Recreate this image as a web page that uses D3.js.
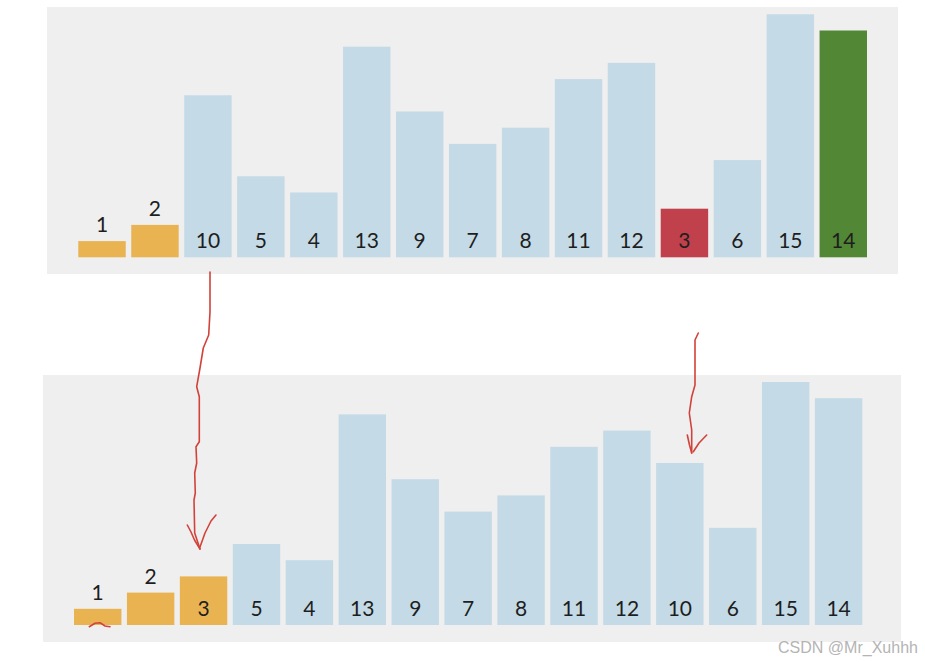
<!DOCTYPE html>
<html>
<head>
<meta charset="utf-8">
<script src="https://cdn.jsdelivr.net/npm/d3@7"></script>
<style>
  html, body { margin: 0; padding: 0; background: #ffffff; }
  svg { display: block; }
</style>
</head>
<body>
<svg id="chart" width="925" height="662"></svg>
<script>
// ---- data ----
const topValues    = [1, 2, 10, 5, 4, 13, 9, 7, 8, 11, 12, 3, 6, 15, 14];
const topStates    = ["sorted","sorted","normal","normal","normal","normal","normal","normal","normal","normal","normal","min","normal","normal","current"];
const bottomValues = [1, 2, 3, 5, 4, 13, 9, 7, 8, 11, 12, 10, 6, 15, 14];
const bottomStates = ["sorted","sorted","sorted","normal","normal","normal","normal","normal","normal","normal","normal","normal","normal","normal","normal"];
const maxValue = 15;

// hand-drawn annotation strokes (pixel points)
const arrow1Shaft = [[210,272],[210,312],[208.7,335],[203.3,348],[200,368],[196.7,386.7],[199.3,396.7],[199.3,441.7],[196,446.7],[196.7,463],[194.7,473],[195.3,493],[194,500],[194.7,533],[200,549]];
const arrow1HeadL = [[187.3,525],[191,532],[194.5,540],[200,549]];
const arrow1HeadR = [[216,515],[211,521],[205,533],[200,547]];
const arrow2Shaft = [[698.3,333],[695,340],[695,385],[691.7,396.7],[689.3,413],[691.7,430],[691.7,453]];
const arrow2HeadL = [[687.3,435],[689.5,445],[691.7,453]];
const arrow2HeadR = [[706.7,435],[699,443],[693.3,451.7]];
const squiggle    = [[89.3,626.7],[95,623.3],[100,622.7],[105,626],[110,626.7]];

const colors = { normal: "#c4dae6", sorted: "#e9b352", min: "#c0404c", current: "#528735" };

const svg = d3.select("#chart");

function panel(values, states, box) {
  const g = svg.append("g");
  g.append("rect")
    .attr("x", box.bgX).attr("y", box.bgY)
    .attr("width", box.bgW).attr("height", box.bgH)
    .attr("fill", "#efefef");

  const x = d3.scaleBand()
    .domain(d3.range(values.length))
    .range([box.x0, box.x1])
    .paddingInner(0.104)
    .paddingOuter(0);
  const y = d3.scaleLinear()
    .domain([0, maxValue])
    .range([box.base, box.top]);

  g.selectAll("rect.bar")
    .data(values)
    .join("rect")
    .attr("class", "bar")
    .attr("x", (d, i) => x(i))
    .attr("y", d => y(d))
    .attr("width", x.bandwidth())
    .attr("height", d => y(0) - y(d))
    .attr("fill", (d, i) => colors[states[i]]);

  g.selectAll("text.lbl")
    .data(values)
    .join("text")
    .attr("class", "lbl")
    .attr("x", (d, i) => x(i) + x.bandwidth() / 2)
    .attr("y", d => (y(0) - y(d) < 40) ? y(d) - 9 : y(0) - 9)
    .attr("text-anchor", "middle")
    .attr("font-family", "Lato, 'Liberation Sans', sans-serif")
    .attr("font-size", 21)
    .attr("fill", "#1e1e1e")
    .text(d => d);
}

panel(topValues, topStates, { bgX: 47, bgY: 7, bgW: 851, bgH: 267, x0: 78.3, x1: 867, base: 257.3, top: 14.3 });
panel(bottomValues, bottomStates, { bgX: 43, bgY: 375, bgW: 858, bgH: 267, x0: 74, x1: 862.3, base: 625, top: 382 });

// annotations
const line = d3.line().curve(d3.curveLinear);
const ann = svg.append("g")
  .attr("fill", "none")
  .attr("stroke", "#d2423a")
  .attr("stroke-width", 1.6)
  .attr("stroke-linecap", "round")
  .attr("stroke-linejoin", "round");
[arrow1Shaft, arrow1HeadL, arrow1HeadR, arrow2Shaft, arrow2HeadL, arrow2HeadR, squiggle]
  .forEach(pts => ann.append("path").attr("d", line(pts)));

// watermark
svg.append("text")
  .attr("x", 778).attr("y", 653)
  .attr("font-family", "'Liberation Sans', Arial, sans-serif")
  .attr("font-size", 17)
  .attr("textLength", 140)
  .attr("lengthAdjust", "spacingAndGlyphs")
  .attr("fill", "#b4b4b4")
  .text("CSDN @Mr_Xuhhh");
</script>
</body>
</html>
